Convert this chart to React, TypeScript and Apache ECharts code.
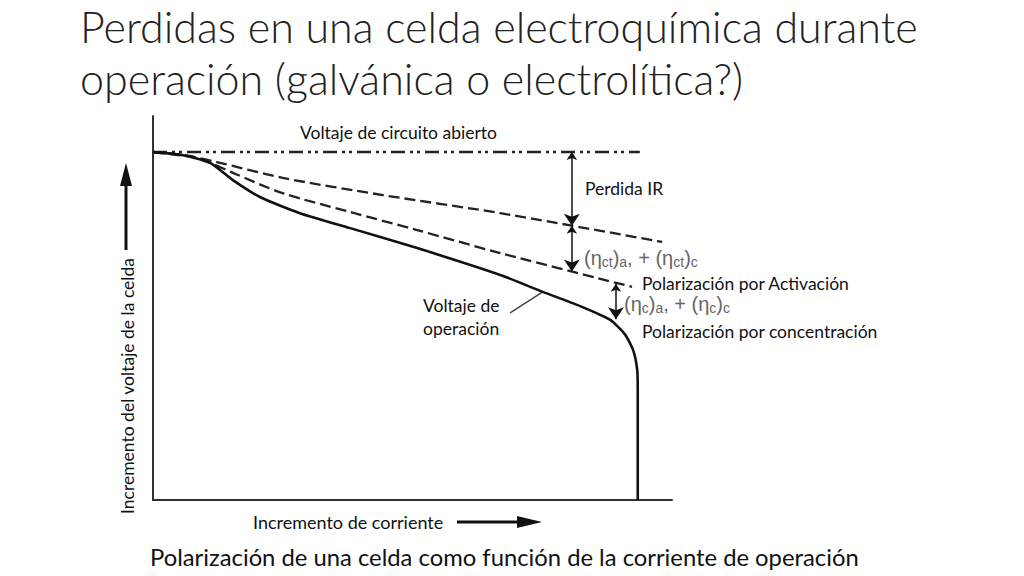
import React, { useEffect, useRef } from "react";
import * as echarts from "echarts";

// Normalised units: x = current (0..100), y = cell voltage (0..100)
const ocvX = [0, 93.8];
const ocvY = [90.6, 90.6];

const irX = [0, 7.7, 12.3, 25.0, 44.3, 66.9, 98.1];
const irY = [90.6, 89.3, 88.0, 83.9, 79.4, 74.7, 67.2];

const actX = [0, 7.1, 11.0, 15.4, 25.0, 38.0, 50.9, 66.9, 92.3];
const actY = [90.6, 89.6, 87.8, 85.2, 79.9, 75.0, 70.3, 64.3, 55.5];

const opX = [0, 5.8, 11.0, 15.4, 20.6, 28.3, 38.0, 50.9, 66.9, 75.1, 82.3, 88.1, 90.9, 92.5, 93.3, 93.4, 93.4];
const opY = [90.6, 89.8, 87.8, 83.3, 78.9, 74.7, 70.8, 65.6, 58.6, 54.2, 50.5, 46.9, 43.2, 39.1, 33.9, 28.6, 0];

// double arrows [x, yTop, yBottom]
const arrowIR = [80.7, 90.6, 71.4];
const arrowAct = [80.7, 71.4, 59.5];
const arrowConc = [89.2, 56.3, 47.1];
const leader = [[68.8, 48.7], [75.1, 54.2]];

const zip = (xs: number[], ys: number[]) => xs.map((x, i) => [x, ys[i]]);

const FONT = "Lato, 'Open Sans', sans-serif";
const ETA_FONT = "'Liberation Sans', Arial, sans-serif";

export default function App() {
  const ref = useRef<HTMLDivElement>(null);
  useEffect(() => {
    if (!ref.current) return;
    const chart = echarts.init(ref.current, null, { renderer: "svg" });
    const txt = (text: string, x: number, y: number, size = 17.5, extra: any = {}) => ({
      type: "text",
      x,
      y,
      style: { text, fontSize: size, fontFamily: FONT, fill: "#111", verticalAlign: "middle", align: "left", ...extra },
    });
    const rich = {
      s: { fontSize: 14, fontFamily: ETA_FONT, fill: "#666", verticalAlign: "bottom", padding: [7, 0, 0, 0] },
    };
    const arrowLine = (a: number[]) => ({ coords: [[a[0], a[1]], [a[0], a[2]]] });
    chart.setOption({
      animation: false,
      grid: { left: 153, top: 116, width: 519, height: 384 },
      xAxis: {
        type: "value",
        min: 0,
        max: 100,
        axisLine: { show: true, lineStyle: { color: "#333", width: 2 } },
        axisTick: { show: false },
        axisLabel: { show: false },
        splitLine: { show: false },
      },
      yAxis: {
        type: "value",
        min: 0,
        max: 100,
        axisLine: { show: true, lineStyle: { color: "#333", width: 2 } },
        axisTick: { show: false },
        axisLabel: { show: false },
        splitLine: { show: false },
      },
      series: [
        {
          type: "line",
          data: zip(ocvX, ocvY),
          symbol: "none",
          lineStyle: { color: "#222", width: 2.5, type: [14, 5, 3, 4, 3, 5] },
        },
        {
          type: "line",
          data: zip(irX, irY),
          symbol: "none",
          smooth: 0.3,
          lineStyle: { color: "#222", width: 2.3, type: [11, 5] },
        },
        {
          type: "line",
          data: zip(actX, actY),
          symbol: "none",
          smooth: 0.3,
          lineStyle: { color: "#222", width: 2.3, type: [11, 5] },
        },
        {
          type: "line",
          data: zip(opX, opY),
          symbol: "none",
          smooth: 0.2,
          lineStyle: { color: "#111", width: 2.6 },
        },
        {
          type: "lines",
          coordinateSystem: "cartesian2d",
          symbol: ["arrow", "arrow"],
          symbolSize: [8, 12],
          lineStyle: { color: "#111", width: 1.5, opacity: 1 },
          data: [arrowLine(arrowIR), arrowLine(arrowAct), arrowLine(arrowConc)],
        },
        {
          type: "lines",
          coordinateSystem: "cartesian2d",
          symbol: "none",
          lineStyle: { color: "#444", width: 1.5, opacity: 1 },
          data: [{ coords: leader }],
        },
      ],
      graphic: [
        txt("Perdidas en una celda electroquímica durante", 80, 26, 43, { fontWeight: 300, fill: "#222" }),
        txt("operación (galvánica o electrolítica?)", 80, 78, 43, { fontWeight: 300, fill: "#222" }),
        txt("Voltaje de circuito abierto", 300, 132),
        txt("Perdida IR", 585, 188),
        txt("Polarización por Activación", 642, 283),
        txt("Polarización por concentración", 642, 331),
        txt("Voltaje de", 423, 305),
        txt("operación", 423, 328),
        txt("Incremento de corriente", 253, 522, 18),
        txt("Polarización de una celda como función de la corriente de operación", 150, 557, 23.8),
        {
          type: "text",
          x: 127,
          y: 386,
          rotation: Math.PI / 2,
          style: { text: "Incremento del voltaje de la celda", fontSize: 17.5, fontFamily: FONT, fill: "#111", align: "center", verticalAlign: "middle" },
        },
        {
          type: "text",
          x: 584,
          y: 258,
          style: {
            text: "(η{s|ct}){s|a}, + (η{s|ct}){s|c}",
            fontSize: 20,
            fontFamily: ETA_FONT,
            fill: "#666",
            verticalAlign: "middle",
            rich,
          },
        },
        {
          type: "text",
          x: 624,
          y: 304,
          style: {
            text: "(η{s|c}){s|a}, + (η{s|c}){s|c}",
            fontSize: 20,
            fontFamily: ETA_FONT,
            fill: "#666",
            verticalAlign: "middle",
            rich,
          },
        },
        { type: "line", shape: { x1: 126, y1: 250, x2: 126, y2: 182 }, style: { stroke: "#111", lineWidth: 3 } },
        { type: "polygon", shape: { points: [[120, 186], [132, 186], [126, 163]] }, style: { fill: "#111" } },
        { type: "line", shape: { x1: 457, y1: 522, x2: 520, y2: 522 }, style: { stroke: "#111", lineWidth: 3 } },
        { type: "polygon", shape: { points: [[517, 516], [517, 528], [542, 522]] }, style: { fill: "#111" } },
      ],
    });
    return () => chart.dispose();
  }, []);
  return <div ref={ref} style={{ width: 1024, height: 576, position: "absolute", left: 0, top: 0, background: "#fff" }} />;
}
